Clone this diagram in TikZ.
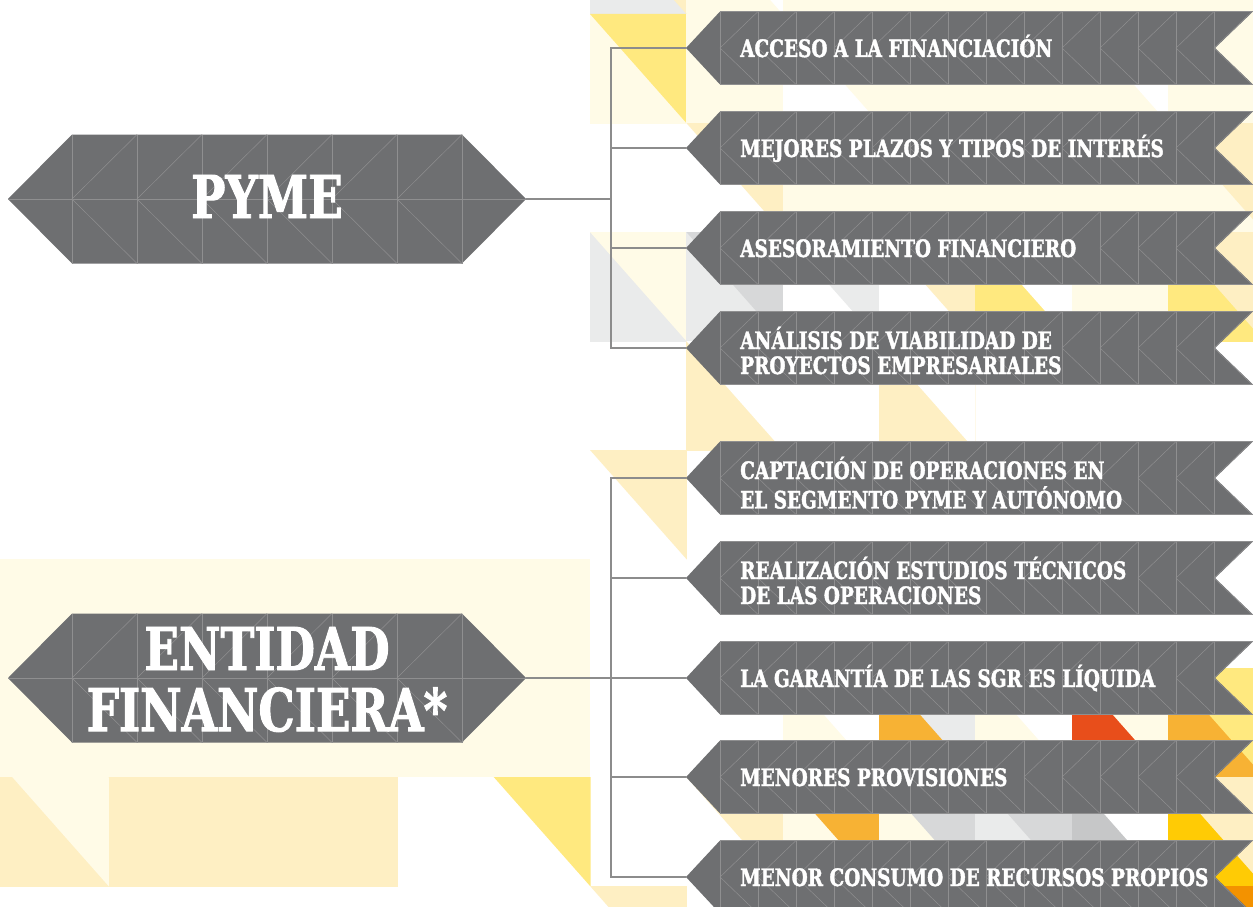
\documentclass[tikz,border=0pt]{standalone}
\usepackage{fontspec}
\newfontfamily\slab{DejaVu Serif}[FakeStretch=0.77,FakeBold=1.6]
\definecolor{shapegray}{HTML}{6E6F71}
\definecolor{gridc}{HTML}{8F8F90}
\definecolor{connc}{HTML}{8C8C8C}
\definecolor{cream}{HTML}{FFFBE7}
\definecolor{paleY}{HTML}{FEEFC3}
\definecolor{yel}{HTML}{FFE97F}
\definecolor{greyL}{HTML}{EAEBEB}
\definecolor{greyD}{HTML}{D7D8D9}
\definecolor{greyM}{HTML}{C6C7C8}
\definecolor{orng}{HTML}{F7B234}
\definecolor{redo}{HTML}{E84E1B}
\definecolor{gold}{HTML}{FFCB05}
\definecolor{dorng}{HTML}{F39200}
\tikzset{
  gridl/.style={draw=gridc, line width=0.5pt},
  conn/.style={draw=connc, line width=1.3pt},
  btext/.style={text=white, inner sep=0pt, font=\slab\bfseries\fontsize{24}{24}\selectfont},
  bigtext/.style={text=white, inner sep=0pt, font=\slab\bfseries\fontsize{59}{58}\selectfont},
}
\newcommand{\tile}[4]{%
  \fill[#3] (#1,#2) rectangle ++(96.8,109.5);
  \fill[#4] (#1,#2) -- (#1+96.8,#2) -- (#1+96.8,#2+109.5) -- cycle;}
\newcommand{\banner}[2]{%
  \fill[shapegray] (686,#2) -- (720,#2-36.5) -- (1253,#2-36.5) -- (1215,#2) -- (1253,#2+36.5) -- (720,#2+36.5) -- cycle;
  \foreach \i in {0,...,13}{
    \draw[gridl] (720+38*\i,#2-36.5) -- (720+38*\i,#2+36.5);
    \draw[gridl] (758+38*\i,#2-36.5) -- (720+38*\i,#2) -- (758+38*\i,#2+36.5);
  }
  \draw[gridl] (720,#2-36.5) -- (1253,#2-36.5) (720,#2+36.5) -- (1253,#2+36.5);
  \coordinate (#1) at (686,#2);}
\newcommand{\bigshape}[2]{%
  \fill[shapegray] (8,#2) -- (72,#2-64.5) -- (462,#2-64.5) -- (526,#2) -- (462,#2+64.5) -- (72,#2+64.5) -- cycle;
  \draw[gridl] (8,#2) -- (526,#2);
  \foreach \i in {0,...,6}{\draw[gridl] (72+65*\i,#2-64.5) -- (72+65*\i,#2+64.5);}
  \foreach \i in {0,...,5}{\draw[gridl] (137+65*\i,#2-64.5) -- (72+65*\i,#2) -- (137+65*\i,#2+64.5);}
  \coordinate (#1R) at (526,#2);}
\newcommand{\twol}[2]{\begin{tabular}[t]{@{}l@{}}#1\\#2\end{tabular}}
\newcommand{\twoc}[2]{\begin{tabular}[t]{@{}c@{}}#1\\#2\end{tabular}}
\begin{document}
\begin{tikzpicture}[x=1pt,y=-1pt]
\useasboundingbox (0,0) rectangle (1253,907);
\begin{scope}
\clip (0,0) rectangle (1253,907);
% ---- background tiles ----
\tile{590}{-95}{greyL}{paleY}
\tile{686.3}{-95}{cream}{white}
\tile{782.6}{-95}{cream}{cream}
\tile{878.9}{-95}{cream}{cream}
\tile{975.2}{-95}{cream}{cream}
\tile{1071.5}{-95}{cream}{cream}
\tile{1167.8}{-95}{cream}{cream}
\tile{590}{14}{cream}{yel}
\tile{686.3}{14}{cream}{cream}
\tile{782.6}{14}{white}{cream}
\tile{878.9}{14}{cream}{cream}
\tile{975.2}{14}{cream}{cream}
\tile{1071.5}{14}{cream}{white}
\tile{1167.8}{14}{cream}{cream}
\tile{686.3}{123}{white}{paleY}
\tile{782.6}{123}{cream}{cream}
\tile{878.9}{123}{cream}{cream}
\tile{975.2}{123}{cream}{cream}
\tile{1071.5}{123}{cream}{cream}
\tile{1167.8}{123}{cream}{paleY}
\tile{590}{232}{greyL}{cream}
\tile{686.3}{232}{greyL}{greyD}
\tile{782.6}{232}{white}{greyL}
\tile{878.9}{232}{white}{paleY}
\tile{975.2}{232}{yel}{white}
\tile{1071.5}{232}{cream}{cream}
\tile{1167.8}{232}{yel}{paleY}
\tile{686.3}{341}{paleY}{white}
\tile{878.9}{341}{paleY}{white}
\tile{590}{450}{white}{paleY}
\tile{782.6}{668}{cream}{white}
\tile{878.9}{668}{orng}{greyL}
\tile{975.2}{668}{cream}{white}
\tile{1071.5}{668}{redo}{cream}
\tile{1167.8}{668}{orng}{yel}
\tile{686.3}{777}{white}{paleY}
\tile{782.6}{777}{cream}{orng}
\tile{878.9}{777}{cream}{greyD}
\tile{975.2}{777}{greyL}{greyD}
\tile{1071.5}{777}{greyM}{white}
\tile{1167.8}{777}{gold}{paleY}
\tile{590}{886}{white}{paleY}
\tile{1167.8}{886}{gold}{dorng}
\fill[cream] (0,559) rectangle (590,777);
\tile{-84.1}{777}{paleY}{paleY}
\tile{12.2}{777}{paleY}{cream}
\tile{108.5}{777}{paleY}{paleY}
\tile{204.8}{777}{paleY}{paleY}
\tile{301.1}{777}{paleY}{paleY}
\tile{493.7}{777}{white}{yel}
\end{scope}
% ---- shapes ----
\bigshape{pyme}{199}
\bigshape{ent}{678}
\banner{b1}{48}
\banner{b2}{148}
\banner{b3}{248}
\banner{b4}{348}
\banner{b5}{478}
\banner{b6}{578}
\banner{b7}{678}
\banner{b8}{777}
\banner{b9}{877}
% ---- connectors ----
\coordinate (jp) at (611,199);
\coordinate (je) at (611,678);
\draw[conn] (pymeR) -- (jp);
\foreach \t in {b1,b2,b3,b4} \draw[conn] (jp) |- (\t);
\draw[conn] (entR) -- (je);
\foreach \t in {b5,b6,b7,b8,b9} \draw[conn] (je) |- (\t);
% ---- texts ----
\node[bigtext, anchor=base] (tpyme) at (267,218) {PYME};
\node[bigtext, anchor=base] (tent) at (267,670) {\twoc{ENTIDAD}{FINANCIERA*}};
\node[btext, anchor=base west] (l1) at (740,57) {ACCESO A LA FINANCIACIÓN};
\node[btext, anchor=base west] (l2) at (740,157) {MEJORES PLAZOS Y TIPOS DE INTERÉS};
\node[btext, anchor=base west] (l3) at (740,257) {ASESORAMIENTO FINANCIERO};
\node[btext, anchor=base west] (l4) at (740,349) {\twol{ANÁLISIS DE VIABILIDAD DE}{PROYECTOS EMPRESARIALES}};
\node[btext, anchor=base west] (l5) at (740,479) {\twol{CAPTACIÓN DE OPERACIONES EN}{EL SEGMENTO PYME Y AUTÓNOMO}};
\node[btext, anchor=base west] (l6) at (740,579) {\twol{REALIZACIÓN ESTUDIOS TÉCNICOS}{DE LAS OPERACIONES}};
\node[btext, anchor=base west] (l7) at (740,687) {LA GARANTÍA DE LAS SGR ES LÍQUIDA};
\node[btext, anchor=base west] (l8) at (740,786) {MENORES PROVISIONES};
\node[btext, anchor=base west] (l9) at (740,886) {MENOR CONSUMO DE RECURSOS PROPIOS};
\end{tikzpicture}
\end{document}
